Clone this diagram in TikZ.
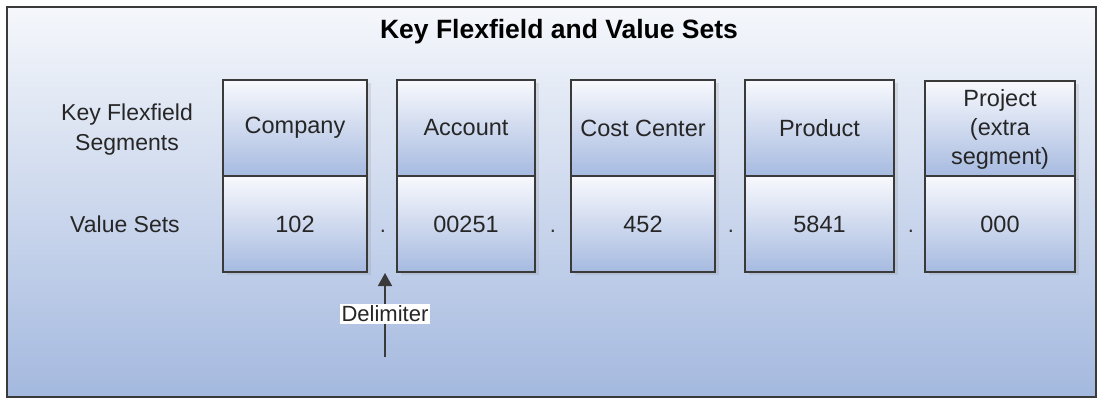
\documentclass[tikz,border=0pt]{standalone}
\usepackage{fontspec}
\setmainfont{Liberation Sans}
\usetikzlibrary{shadows,arrows.meta}
\definecolor{bgtop}{HTML}{F5F7FB}
\definecolor{bgbot}{HTML}{A4B9DF}
\definecolor{celltop}{HTML}{F8F9FD}
\definecolor{cellbot}{HTML}{A6BAE0}
\definecolor{framegray}{HTML}{3A3A3A}
\tikzset{
  cell/.style={draw=framegray, line width=1.6pt, top color=celltop, bottom color=cellbot,
    inner sep=0pt, minimum height=96pt, align=center, font=\fontsize{23.5}{29}\selectfont,
    text=black!85, drop shadow={opacity=0.18, shadow xshift=4pt, shadow yshift=-3pt}},
  rowlabel/.style={align=center, font=\fontsize{23}{30}\selectfont, text=black!85},
  delimdot/.style={anchor=base, inner sep=0pt, font=\fontsize{22}{26}\selectfont, text=black!80},
}
\begin{document}
\begin{tikzpicture}[x=1pt,y=1pt]
\useasboundingbox (0,0) rectangle (1099,400);
\draw[framegray, line width=1.8pt, top color=bgtop, bottom color=bgbot] (7,3) rectangle (1096,393);
\node[font=\fontsize{26.5}{30}\selectfont\bfseries] (title) at (559,368) {Key Flexfield and Value Sets};

\node[rowlabel] (seglabel) at (127,270) {Key Flexfield\\Segments};
\node[rowlabel] (vallabel) at (125,176) {Value Sets};

\node[cell, minimum width=144pt] (seg0) at (295,272) {Company};
\node[cell, minimum width=144pt] (val0) at (295,176) {102};
\node[cell, minimum width=138pt] (seg1) at (466,272) {Account};
\node[cell, minimum width=138pt] (val1) at (466,176) {00251};
\node[cell, minimum width=144pt] (seg2) at (643,272) {Cost Center};
\node[cell, minimum width=144pt] (val2) at (643,176) {452};
\node[cell, minimum width=149pt] (seg3) at (819.5,272) {Product};
\node[cell, minimum width=149pt] (val3) at (819.5,176) {5841};
\node[cell, minimum width=150pt] (seg4) at (1000,271) {Project\\(extra\\segment)};
\node[cell, minimum width=150pt] (val4) at (1000,176) {000};

\node[delimdot] (dot0) at (383,168) {.};
\node[delimdot] (dot1) at (553,168) {.};
\node[delimdot] (dot2) at (731,168) {.};
\node[delimdot] (dot3) at (911,168) {.};

\coordinate (delimfoot) at (385,43);
\coordinate (delimtip) at (385,127);
\draw[framegray, line width=1.6pt, -{Triangle[width=14pt,length=13pt]}] (delimfoot) -- (delimtip);
\node[fill=white, inner sep=2pt, font=\fontsize{22}{25}\selectfont, text=black!85] (delim) at (385,86) {Delimiter};

\end{tikzpicture}
\end{document}
